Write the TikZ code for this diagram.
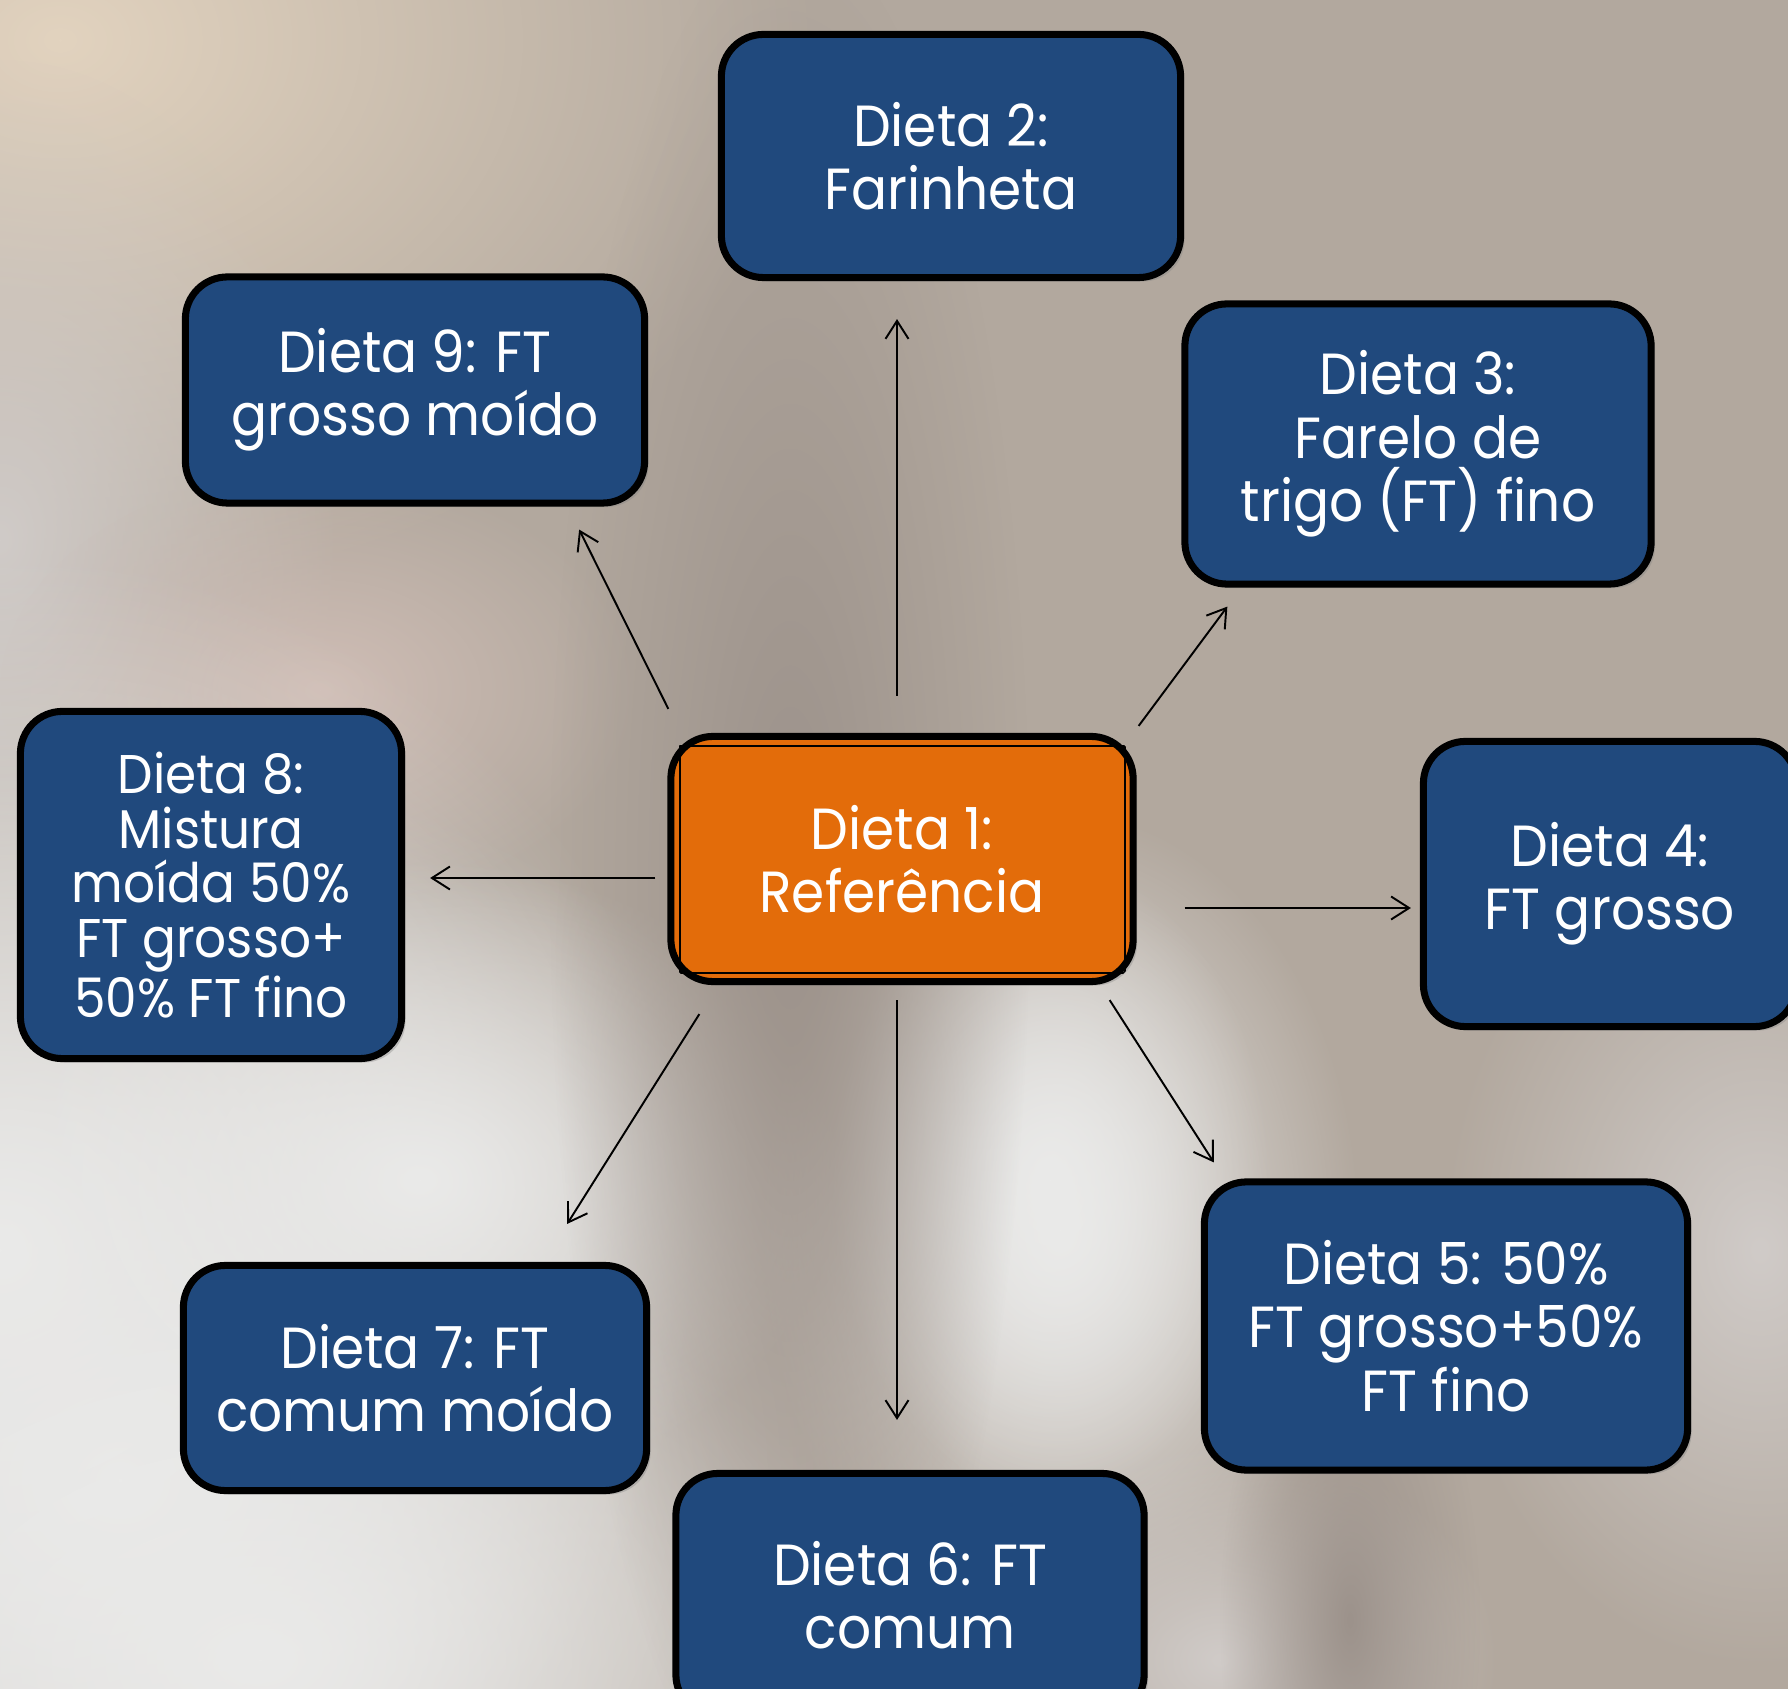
\documentclass[tikz,border=0pt]{standalone}
\usepackage{fontspec}
\setmainfont{Poppins}[FakeStretch=0.92]
\usetikzlibrary{arrows.meta,fadings,shadows}
\definecolor{boxBlue}{RGB}{32,73,125}
\definecolor{refOrange}{RGB}{227,108,10}
\definecolor{bgBase}{RGB}{178,168,158}
\definecolor{bgBeige}{RGB}{226,211,191}
\definecolor{bgLight}{RGB}{234,234,233}
\definecolor{bgGrey}{RGB}{208,203,200}
\definecolor{bgPink}{RGB}{208,190,182}
\definecolor{bgDark}{RGB}{156,146,139}
\tikzfading[name=softblob, inner color=transparent!0, outer color=transparent!100]

\begin{document}
\begin{tikzpicture}[
  x=0.01cm, y=-0.01cm,
  font=\fontsize{16.5}{18}\selectfont,
  >={Straight Barb[length=1.8mm,width=2.3mm]},
  diet/.style={rounded corners=0.42cm, draw=black, line width=2pt, fill=boxBlue, text=white, align=center, inner sep=2pt,
    drop shadow={shadow xshift=0.4mm, shadow yshift=-0.4mm, opacity=0.35}},
  refbox/.style={diet, fill=refOrange},
  arr/.style={->, line width=0.55pt, black},
  blob/.style={path fading=softblob},
]

% ---- frame and blurred backdrop ----
\useasboundingbox (0,0) rectangle (1788,1689);
\clip (0,0) rectangle (1788,1689);
\fill[bgBase] (0,0) rectangle (1788,1689);
\fill[bgBeige, blob] (60,40) ellipse (760 and 560);
\fill[bgGrey, blob] (0,540) ellipse (340 and 480);
\fill[bgPink, blob] (320,690) ellipse (320 and 220);
\fill[bgLight, blob] (120,1480) ellipse (820 and 720);
\fill[bgLight, blob] (0,1250) ellipse (700 and 700);
\fill[bgLight, blob] (260,1660) ellipse (620 and 420);
\fill[bgLight, blob] (420,1180) ellipse (420 and 320);
\fill[bgLight, blob] (1060,1230) ellipse (300 and 420);
\fill[bgLight, blob] (1050,1180) ellipse (220 and 320);
\fill[bgGrey, blob] (1760,1250) ellipse (320 and 420);
\fill[bgGrey, blob] (1220,1660) ellipse (280 and 220);
\fill[bgDark, blob] (790,880) ellipse (240 and 950);
\fill[bgDark, blob] (1350,1620) ellipse (130 and 320);

% ---- centre: the reference diet ----
\node[refbox, minimum width=4.62cm, minimum height=2.45cm] (ref) at (902,859) {Dieta 1:\\Referência};
\begin{scope}
  \clip[rounded corners=0.42cm] (ref.north west) rectangle (ref.south east);
  \draw[line width=0.6pt] ([shift={(13,13)}]ref.north west) rectangle ([shift={(-12,-12)}]ref.south east);
\end{scope}

% ---- the eight test diets ----
\node[diet, minimum width=4.59cm, minimum height=2.43cm] (d2) at (951,156) {Dieta 2:\\Farinheta};
\node[diet, minimum width=4.66cm, minimum height=2.80cm] (d3) at (1418,444) {Dieta 3:\\Farelo de\\trigo (FT) fino};
\node[diet, minimum width=3.73cm, minimum height=2.85cm] (d4) at (1610,884) {Dieta 4:\\FT grosso};
\node[diet, minimum width=4.83cm, minimum height=2.88cm] (d5) at (1446,1326) {Dieta 5: 50\%\\FT grosso+50\%\\FT fino};
\node[diet, minimum width=4.68cm, minimum height=2.43cm] (d6) at (910,1595) {Dieta 6: FT\\comum};
\node[diet, minimum width=4.63cm, minimum height=2.25cm] (d7) at (415,1378) {Dieta 7: FT\\comum moído};
\node[diet, minimum width=3.81cm, minimum height=3.47cm, font=\fontsize{15.5}{15.5}\selectfont] (d8) at (211,885)
  {Dieta 8:\\Mistura\\moída 50\%\\FT grosso+\\50\% FT fino};
\node[diet, minimum width=4.59cm, minimum height=2.26cm] (d9) at (415,390) {Dieta 9: FT\\grosso moído};

% ============ arrows ============
\draw[arr] ([shift={(-5,-37)}]ref.north) -- ([shift={(-54,38)}]d2.south);
\draw[arr] ([shift={(2,-7)}]ref.north east) -- ([shift={(46,19)}]d3.south west);
\draw[arr] ([shift={(48,49)}]ref.east) -- ([shift={(-9,24)}]d4.west);
\draw[arr] ([shift={(-27,15)}]ref.south east) -- ([shift={(13,-16)}]d5.north west);
\draw[arr] ([shift={(-5,15)}]ref.south) -- ([shift={(-13,-50)}]d6.north);
\draw[arr] ([shift={(32,29)}]ref.south west) -- ([shift={(-83,-38)}]d7.north east);
\draw[arr] ([shift={(-12,19)}]ref.west) -- ([shift={(25,-7)}]d8.east);
\draw[arr] ([shift={(1,-24)}]ref.north west) -- ([shift={(-69,23)}]d9.south east);

\end{tikzpicture}
\end{document}
